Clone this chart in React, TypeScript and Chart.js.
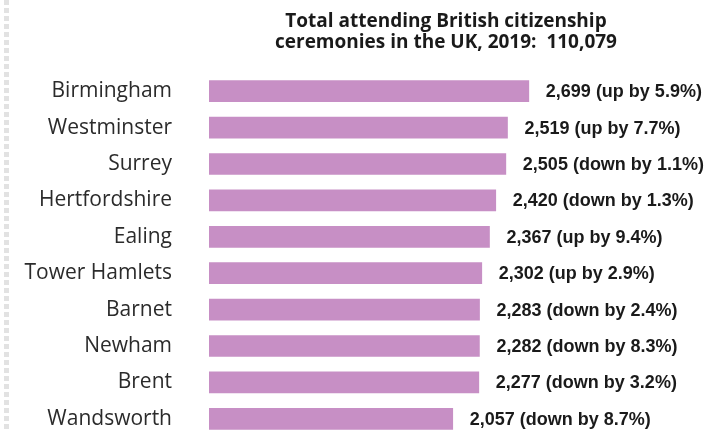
import React, { useEffect, useRef } from "react";
import { Chart, registerables } from "chart.js";

Chart.register(...registerables);

const titleLines = ["Total attending British citizenship", "ceremonies in the UK, 2019:  110,079"];
const categories = [
  "Birmingham",
  "Westminster",
  "Surrey",
  "Hertfordshire",
  "Ealing",
  "Tower Hamlets",
  "Barnet",
  "Newham",
  "Brent",
  "Wandsworth",
];
const attendees = [2699, 2519, 2505, 2420, 2367, 2302, 2283, 2282, 2277, 2057];
const changeWord = ["up", "up", "down", "down", "up", "up", "down", "down", "down", "down"];
const changePct = ["5.9", "7.7", "1.1", "1.3", "9.4", "2.9", "2.4", "8.3", "3.2", "8.7"];
const xMax = 4000;

const fmt = (v: number) => v.toLocaleString("en-GB");

const decorPlugin = {
  id: "decor",
  beforeDraw(chart: any) {
    const ctx = chart.ctx;
    ctx.save();
    ctx.strokeStyle = "#e2e2e2";
    ctx.lineWidth = 5;
    ctx.setLineDash([5, 3]);
    ctx.beginPath();
    ctx.moveTo(6.5, 0);
    ctx.lineTo(6.5, chart.height);
    ctx.stroke();
    ctx.restore();
  },
  afterDatasetsDraw(chart: any) {
    const ctx = chart.ctx;
    const area = chart.chartArea;
    ctx.save();
    ctx.fillStyle = "#1a1a1a";
    ctx.font = "bold 19px 'Open Sans'";
    ctx.textAlign = "center";
    ctx.textBaseline = "alphabetic";
    const cx = (area.left + area.right) / 2;
    ctx.fillText(titleLines[0], cx, 27);
    ctx.fillText(titleLines[1], cx, 48);
    const meta = chart.getDatasetMeta(0);
    ctx.font = "bold 18px 'Liberation Sans'";
    ctx.textAlign = "left";
    ctx.textBaseline = "middle";
    meta.data.forEach((bar: any, i: number) => {
      const txt = `${fmt(attendees[i])} (${changeWord[i]} by ${changePct[i]}%)`;
      ctx.fillText(txt, bar.x + 17, bar.y + 1);
    });
    ctx.restore();
  },
};

export default function App() {
  const ref = useRef<HTMLCanvasElement | null>(null);
  useEffect(() => {
    document.body.style.margin = "0";
    document.body.style.overflow = "hidden";
    const canvas = ref.current!;
    const chart = new Chart(canvas, {
      type: "bar",
      data: {
        labels: categories,
        datasets: [
          {
            data: attendees,
            backgroundColor: "#c78fc5",
            borderWidth: 0,
            barThickness: 21,
          },
        ],
      },
      options: {
        indexAxis: "y",
        animation: false,
        responsive: false,
        maintainAspectRatio: false,
        layout: { padding: { top: 73, right: 27, bottom: 3, left: 0 } },
        plugins: {
          legend: { display: false },
          title: { display: false },
          tooltip: { enabled: false },
        },
        scales: {
          x: {
            display: false,
            min: 0,
            max: xMax,
          },
          y: {
            afterFit(axis: any) {
              axis.width = 209;
              axis.paddingTop = 0;
              axis.paddingBottom = 0;
            },
            grid: { display: false, drawTicks: false },
            border: { display: false },
            ticks: {
              padding: 37,
              color: "#2b2b2b",
              font: { family: "'Open Sans'", size: 21 },
            },
          },
        },
      },
      plugins: [decorPlugin],
    });
    return () => chart.destroy();
  }, []);
  return (
    <div style={{ position: "absolute", left: 0, top: 0, width: 710, height: 440, background: "#fff" }}>
      <canvas ref={ref} width={710} height={440} style={{ width: 710, height: 440 }} />
    </div>
  );
}
